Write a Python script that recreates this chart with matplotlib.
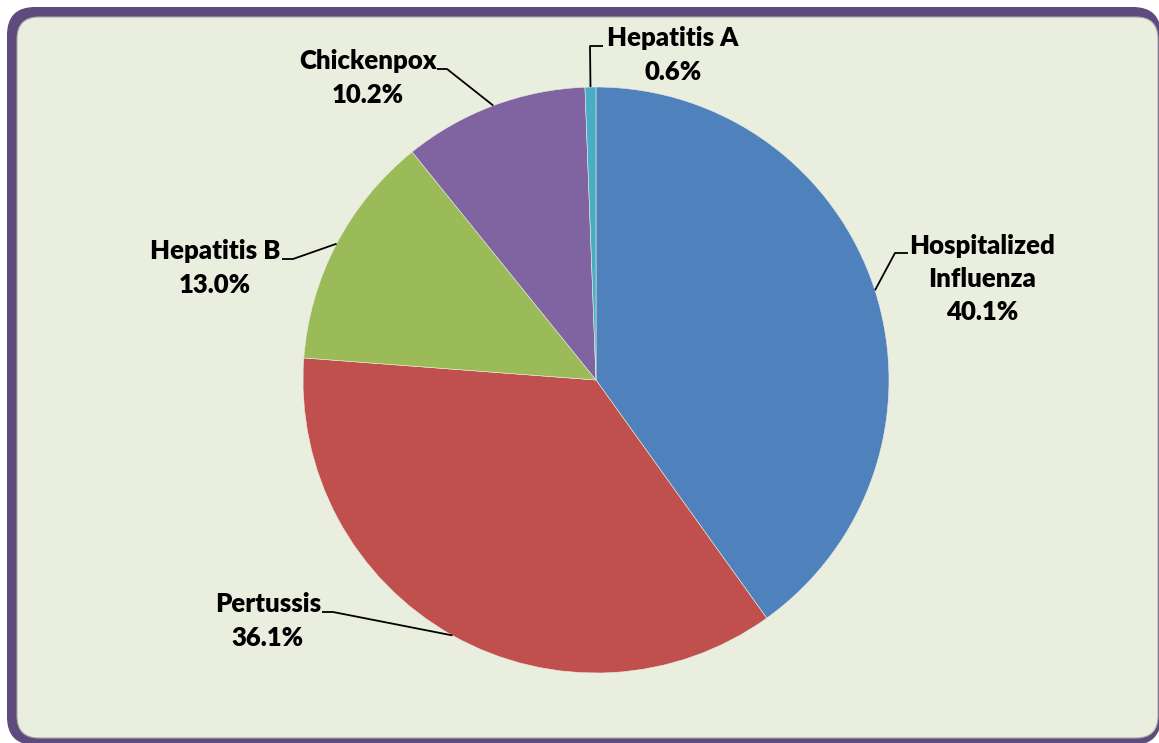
import numpy as np
import matplotlib
matplotlib.use('Agg')
import matplotlib.pyplot as plt
from matplotlib.patches import FancyBboxPatch

# data
labels = ['Hospitalized\nInfluenza', 'Pertussis', 'Hepatitis B', 'Chickenpox', 'Hepatitis A']
values = [40.1, 36.1, 13.0, 10.2, 0.6]
colors = ['#4F81BD', '#C0504D', '#9BBB59', '#8064A2', '#4BACC6']

W, H = 1159, 743
fig = plt.figure(figsize=(W/100, H/100), dpi=100)
fig.patch.set_facecolor('white')
ax = fig.add_axes([0, 0, 1, 1])

def Y(y):
    # pixel row -> data y
    return H - y

# frame: purple rounded border + light green panel
ax.add_patch(FancyBboxPatch((7, Y(745)), 1154, 738, boxstyle='round,pad=0,rounding_size=28',
                            fc='#5E4A7C', ec='none', zorder=0))
ax.add_patch(FancyBboxPatch((17, Y(738)), 1141, 721, boxstyle='round,pad=0,rounding_size=22',
                            fc='#EAEEDF', ec='#A8A8A8', lw=0.8, zorder=1))

cx, cy, r = 596, Y(380), 293
wedges, _ = ax.pie(values, colors=colors, startangle=90, counterclock=False,
                   center=(cx, cy), radius=r, frame=True,
                   wedgeprops=dict(edgecolor='#EAEEDF', linewidth=0.4))
for w in wedges:
    w.set_zorder(2)
ax.set_xlim(0, W)
ax.set_ylim(0, H)
ax.set_aspect('equal')
ax.axis('off')

# label layout: text center, elbow, line end (pixel coords)
layout = [
    ((982, 279), (895, 253), (908, 253)),
    ((268, 621), (333, 612), (322, 612)),
    ((215, 268), (293, 259), (282, 259)),
    ((368, 78), (447, 69), (437, 69)),
    ((673, 55), (590, 46), (603, 46)),
]

for w, lab, v, (tpos, elbow, end) in zip(wedges, labels, values, layout):
    mid = np.deg2rad((w.theta1 + w.theta2) / 2)
    ex, ey = cx + r*np.cos(mid), cy + r*np.sin(mid)
    ax.plot([ex, elbow[0], end[0]], [ey, Y(elbow[1]), Y(end[1])],
            color='black', lw=1.3, zorder=3, solid_capstyle='butt')
    ax.text(tpos[0], Y(tpos[1]), '%s\n%.1f%%' % (lab, v), ha='center', va='center',
            fontsize=18.5, fontweight='heavy', family='Lato', linespacing=1.47,
            color='black', zorder=4)

fig.savefig('out.png', dpi=100, facecolor='white')
